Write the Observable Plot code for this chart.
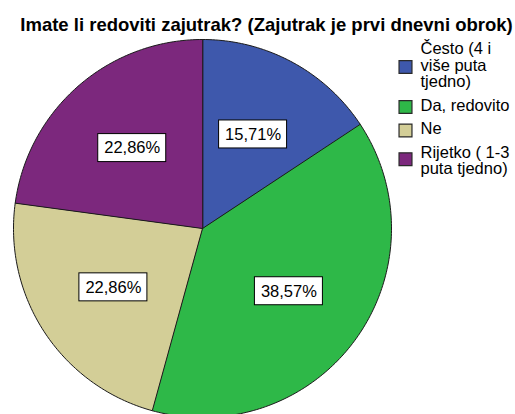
<!DOCTYPE html>
<html><head><meta charset="utf-8">
<script src="https://cdn.jsdelivr.net/npm/d3@7"></script>
<script src="https://cdn.jsdelivr.net/npm/@observablehq/plot@0.6"></script>
<style>body{margin:0;background:#fff} svg{display:block}</style>
</head><body><div id="chart"></div>
<script>
const title = "Imate li redoviti zajutrak? (Zajutrak je prvi dnevni obrok)";
const categories = ["Često (4 i više puta tjedno)", "Da, redovito", "Ne", "Rijetko ( 1-3 puta tjedno)"];
const legendLabels = ["Često (4 i\nviše puta\ntjedno)", "Da, redovito", "Ne", "Rijetko ( 1-3\nputa tjedno)"];
const percents = [15.71, 38.57, 22.86, 22.86];
const colors = ["#3E58AC", "#2EB848", "#D3CE97", "#7C287D"];

const W = 515, H = 414;
const mL = 13, mT = 39;
const labelFrac = 0.565;

const arcs = d3.pie().sort(null).value(d => d)(percents);
const slicePts = [];
arcs.forEach((a, i) => {
  const cat = categories[i];
  slicePts.push({cat, x: 0, y: 0});
  const n = Math.max(2, Math.ceil((a.endAngle - a.startAngle) / (Math.PI / 180)));
  for (let k = 0; k <= n; k++) {
    const t = a.startAngle + (a.endAngle - a.startAngle) * k / n;
    slicePts.push({cat, x: Math.sin(t), y: Math.cos(t)});
  }
});
const labels = arcs.map((a, i) => {
  const m = (a.startAngle + a.endAngle) / 2;
  return {cat: categories[i], x: labelFrac * Math.sin(m), y: labelFrac * Math.cos(m),
          text: percents[i].toFixed(2).replace(".", ",") + "%"};
});

const font = "'Liberation Sans', Arial, sans-serif";
const legendMarks = [];
const legendFont = 16.5;
let rowTop = 42;
legendLabels.forEach((lab, i) => {
  const lines = lab.split("\n").length;
  const lh = legendFont;
  const blockCenter = rowTop + (lines - 1) * lh / 2 + 8 - (lines > 2 ? 0 : (lines - 1) * 3);
  legendMarks.push(Plot.text([lab], {text: d => d, frameAnchor: "top-left", dx: 420 - mL, dy: rowTop - mT,
    lineAnchor: "top", textAnchor: "start", fontSize: legendFont, lineHeight: 1, fill: "black"}));
  legendMarks.push(Plot.dot([categories[i]], {frameAnchor: "top-left", dx: 405 - mL, dy: blockCenter - mT,
    symbol: "square", r: 7.3, fill: d => d, stroke: "#2a2a2a", strokeWidth: 1.2}));
  rowTop += lines * lh + 7;
});

const chart = Plot.plot({
  width: W, height: H,
  marginLeft: mL, marginRight: 124, marginTop: mT, marginBottom: -3,
  x: {domain: [-1, 1], axis: null},
  y: {domain: [-1, 1], axis: null},
  color: {domain: categories, range: colors},
  style: {fontFamily: font, background: "#fff", overflow: "hidden"},
  marks: [
    Plot.line(slicePts, {x: "x", y: "y", z: "cat", fill: "cat", stroke: "#1a1a1a", strokeWidth: 1, curve: "linear-closed"}),
    Plot.rect(labels, {x1: "x", x2: "x", y1: "y", y2: "y", insetLeft: -34, insetRight: -34, insetTop: -14, insetBottom: -14,
      fill: "white", stroke: "black", strokeWidth: 1}),
    Plot.text(labels, {x: "x", y: "y", text: "text", fontSize: 16.5, fill: "black"}),
    Plot.text([title], {text: d => d, frameAnchor: "top-left", dx: 266 - mL, dy: 17 - mT, lineAnchor: "top",
      textAnchor: "middle", fontWeight: "bold", fontSize: 18.5, fill: "black"}),
    ...legendMarks
  ]
});
document.getElementById("chart").appendChild(chart);
</script>
</body></html>
